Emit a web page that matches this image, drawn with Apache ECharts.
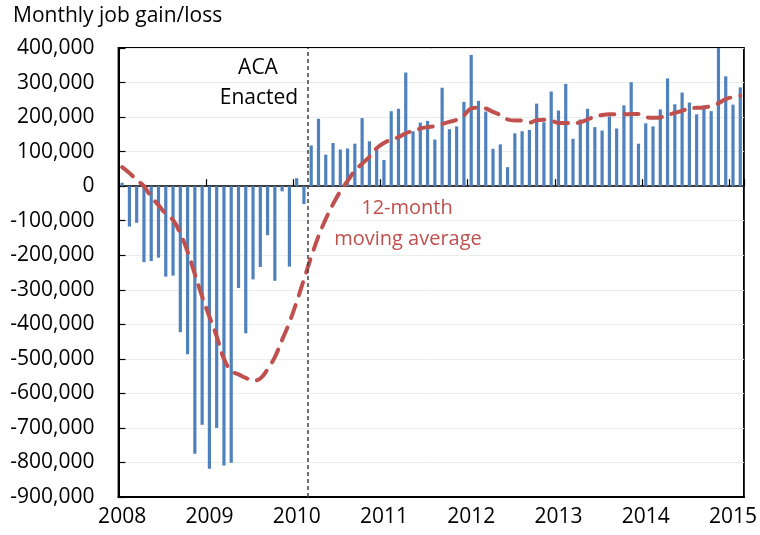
<!DOCTYPE html>
<html>
<head>
<meta charset="utf-8">
<script src="https://cdn.jsdelivr.net/npm/echarts@6/dist/echarts.min.js"></script>
<style>
  html, body { margin: 0; padding: 0; background: #ffffff; }
  #chart { width: 760px; height: 535px; }
</style>
</head>
<body>
<div id="chart"></div>
<script>
// Monthly job gain/loss, Jan 2008 - Feb 2015
const startYear = 2008;
const monthCount = 86;
const yearLabels = ['2008', '2009', '2010', '2011', '2012', '2013', '2014', '2015'];

const jobChange = [
  10000, -117000, -106000, -220000, -217000, -207000, -262000, -259000, -423000, -487000, -775000, -691000,
  -818000, -700000, -809000, -801000, -295000, -426000, -270000, -234000, -142000, -274000, -15000, -233000,
  23000, -52000, 118000, 195000, 91000, 125000, 106000, 109000, 123000, 197000, 130000, 106000,
  76000, 217000, 224000, 329000, 159000, 184000, 189000, 135000, 285000, 165000, 173000, 244000,
  380000, 247000, 216000, 108000, 121000, 55000, 153000, 159000, 163000, 239000, 185000, 274000,
  219000, 296000, 137000, 193000, 224000, 171000, 161000, 202000, 167000, 234000, 301000, 123000,
  182000, 173000, 222000, 312000, 237000, 271000, 242000, 208000, 234000, 217000, 405000, 318000,
  236000, 286000
];

const movingAverage = [
  55000, 38000, 18000, 0, -31000, -55000, -80000, -98000, -137000, -190000, -255000, -320000,
  -378000, -435000, -500000, -535000, -545000, -555000, -563000, -557000, -530000, -495000, -445000, -395000,
  -335000, -270000, -205000, -145000, -95000, -52000, -15000, 15000, 45000, 65000, 85000, 110000,
  125000, 135000, 142000, 153000, 160000, 167000, 171000, 174000, 180000, 186000, 192000, 205000,
  225000, 227000, 225000, 215000, 206000, 193000, 190000, 190000, 184000, 191000, 192000, 190000,
  183000, 183000, 182000, 185000, 193000, 201000, 206000, 208000, 208000, 208000, 209000, 209000,
  200000, 198000, 199000, 206000, 212000, 218000, 225000, 227000, 228000, 232000, 240000, 252000,
  258000, 262000
];

const acaMonthIndex = 26; // March 2010

const months = [];
for (let i = 0; i < monthCount; i++) {
  const y = startYear + Math.floor(i / 12);
  const m = (i % 12) + 1;
  months.push(y + '-' + (m < 10 ? '0' + m : m));
}

const FONT = 'Open Sans';
const chart = echarts.init(document.getElementById('chart'), null, { renderer: 'canvas' });

const isJan = (idx) => idx % 12 === 0;

chart.setOption({
  animation: false,
  backgroundColor: '#ffffff',
  grid: {
    left: 118.5, right: 13, top: 48, bottom: 38,
    show: true, borderColor: '#000000', borderWidth: 1.8, backgroundColor: 'transparent'
  },
  xAxis: [
    {
      type: 'category',
      data: months,
      position: 'bottom',
      boundaryGap: true,
      axisLine: { show: true, onZero: false, lineStyle: { color: '#000000', width: 2 } },
      axisTick: { show: false },
      axisLabel: {
        interval: (idx) => isJan(idx),
        formatter: (v) => v.slice(0, 4),
        color: '#000000', fontFamily: FONT, fontSize: 21, margin: 10
      },
      splitLine: { show: false }
    },
    {
      type: 'category',
      data: months,
      position: 'bottom',
      boundaryGap: true,
      axisLine: { show: true, onZero: true, onZeroAxisIndex: 0, lineStyle: { color: '#000000', width: 1.5 } },
      axisTick: { show: true, inside: true, length: 7, interval: (idx) => isJan(idx) && idx > 0, lineStyle: { color: '#000000', width: 1.2 } },
      axisLabel: { show: false },
      splitLine: { show: false }
    },
    {
      type: 'value',
      min: 0, max: monthCount,
      show: false
    }
  ],
  yAxis: {
    type: 'value',
    min: -900000, max: 400000, interval: 100000,
    axisLine: { show: true, onZero: false, lineStyle: { color: '#000000', width: 2 } },
    axisTick: { show: true, inside: true, length: 7, lineStyle: { color: '#000000', width: 1.2 } },
    axisLabel: {
      formatter: (v) => v.toLocaleString('en-US'),
      color: '#000000', fontFamily: FONT, fontSize: 21, margin: 24
    },
    splitLine: { show: true, lineStyle: { color: '#ececec', width: 1 } }
  },
  series: [
    {
      type: 'bar',
      xAxisIndex: 0,
      data: jobChange,
      barWidth: 3.2,
      clip: true,
      itemStyle: { color: '#4F81BD' },
      z: 2
    },
    {
      type: 'line',
      xAxisIndex: 0,
      data: movingAverage,
      smooth: 0.4,
      showSymbol: false,
      symbol: 'none',
      clip: true,
      lineStyle: { color: '#C0504D', width: 4, type: [14, 10], cap: 'round' },
      z: 4
    },
    {
      type: 'line',
      xAxisIndex: 2,
      data: [],
      markLine: {
        silent: true,
        symbol: 'none',
        label: { show: false },
        lineStyle: { color: '#404040', width: 1.5, type: [4, 3] },
        data: [{ xAxis: acaMonthIndex + 0.05 }]
      },
      z: 3
    }
  ],
  graphic: [
    {
      type: 'text', x: 13, y: 16,
      style: { text: 'Monthly job gain/loss', fontFamily: FONT, fontSize: 21, fill: '#000000', align: 'left', verticalAlign: 'middle' }
    },
    {
      type: 'text', x: 258, y: 68,
      style: { text: 'ACA', fontFamily: FONT, fontSize: 21, fill: '#000000', align: 'center', verticalAlign: 'middle' }
    },
    {
      type: 'text', x: 259, y: 98,
      style: { text: 'Enacted', fontFamily: FONT, fontSize: 21, fill: '#000000', align: 'center', verticalAlign: 'middle' }
    },
    {
      type: 'text', x: 407, y: 208,
      style: { text: '12-month', fontFamily: FONT, fontSize: 20, fill: '#C0504D', align: 'center', verticalAlign: 'middle' }
    },
    {
      type: 'text', x: 408, y: 239,
      style: { text: 'moving average', fontFamily: FONT, fontSize: 20, fill: '#C0504D', align: 'center', verticalAlign: 'middle' }
    }
  ]
});
</script>
</body>
</html>
